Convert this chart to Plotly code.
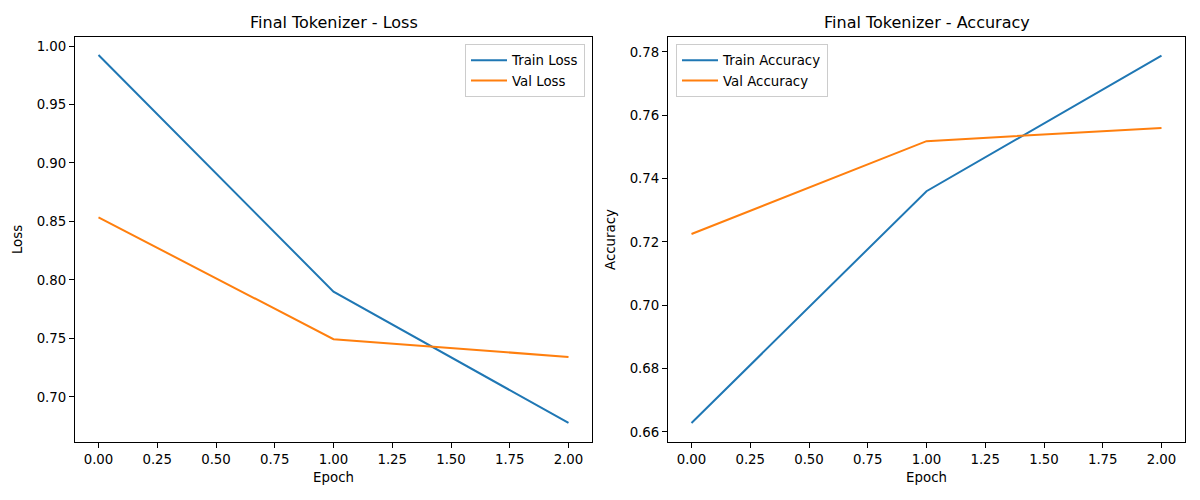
import plotly.graph_objects as go

epochs = [0, 1, 2]
train_loss = [0.9923, 0.7900, 0.6778]
val_loss = [0.8535, 0.7494, 0.7342]
train_acc = [0.6628, 0.7360, 0.7788]
val_acc = [0.7225, 0.7518, 0.7560]

blue = "#1f77b4"
orange = "#ff7f0e"
FONT = "DejaVu Sans"
FS = 13.33

fig = go.Figure()
fig.add_trace(go.Scatter(x=epochs, y=train_loss, mode="lines", name="Train Loss",
                         line=dict(color=blue, width=2), xaxis="x", yaxis="y", legend="legend"))
fig.add_trace(go.Scatter(x=epochs, y=val_loss, mode="lines", name="Val Loss",
                         line=dict(color=orange, width=2), xaxis="x", yaxis="y", legend="legend"))
fig.add_trace(go.Scatter(x=epochs, y=train_acc, mode="lines", name="Train Accuracy",
                         line=dict(color=blue, width=2), xaxis="x2", yaxis="y2", legend="legend2"))
fig.add_trace(go.Scatter(x=epochs, y=val_acc, mode="lines", name="Val Accuracy",
                         line=dict(color=orange, width=2), xaxis="x2", yaxis="y2", legend="legend2"))

ax_common = dict(showline=True, linecolor="black", linewidth=1, mirror=True,
                 ticks="outside", ticklen=5, tickwidth=1, tickcolor="black",
                 showgrid=False, zeroline=False, automargin=False,
                 tickfont=dict(family=FONT, size=FS, color="black"))

xl = (75 / 1200, 592 / 1200)
xr = (668 / 1200, 1185 / 1200)
yd = (1 - 442 / 500, 1 - 37 / 500)

fig.update_layout(
    width=1200, height=500,
    margin=dict(l=0, r=0, t=0, b=0, autoexpand=False),
    plot_bgcolor="white", paper_bgcolor="white",
    font=dict(family=FONT, size=FS, color="black"),
    xaxis=dict(domain=xl, anchor="y", range=[-0.1, 2.1], tick0=0, dtick=0.25, tickformat=".2f",
               title=dict(text="Epoch", standoff=6, font=dict(family=FONT, size=FS)), **ax_common),
    yaxis=dict(domain=yd, anchor="x", range=[0.6615, 1.0077], tick0=0, dtick=0.05, tickformat=".2f",
               title=dict(text="Loss", standoff=10, font=dict(family=FONT, size=FS)), **ax_common),
    xaxis2=dict(domain=xr, anchor="y2", range=[-0.1, 2.1], tick0=0, dtick=0.25, tickformat=".2f",
                title=dict(text="Epoch", standoff=6, font=dict(family=FONT, size=FS)), **ax_common),
    yaxis2=dict(domain=yd, anchor="x2", range=[0.6568, 0.7847], tick0=0, dtick=0.02, tickformat=".2f",
                title=dict(text="Accuracy", standoff=10, font=dict(family=FONT, size=FS)), **ax_common),
    legend=dict(x=585 / 1200, y=1 - 44 / 500, xanchor="right", yanchor="top",
                bgcolor="rgba(255,255,255,0.8)", bordercolor="#cccccc", borderwidth=1,
                font=dict(family=FONT, size=FS), tracegroupgap=0, itemwidth=36),
    legend2=dict(x=676 / 1200, y=1 - 44 / 500, xanchor="left", yanchor="top",
                 bgcolor="rgba(255,255,255,0.8)", bordercolor="#cccccc", borderwidth=1,
                 font=dict(family=FONT, size=FS), tracegroupgap=0, itemwidth=36),
    annotations=[
        dict(text="Final Tokenizer - Loss", x=(xl[0] + xl[1]) / 2, y=1 - 22 / 500,
             xref="paper", yref="paper", showarrow=False, xanchor="center", yanchor="middle",
             font=dict(family=FONT, size=16, color="black")),
        dict(text="Final Tokenizer - Accuracy", x=(xr[0] + xr[1]) / 2, y=1 - 22 / 500,
             xref="paper", yref="paper", showarrow=False, xanchor="center", yanchor="middle",
             font=dict(family=FONT, size=16, color="black")),
    ],
)

fig.write_html("out.html", config={"displayModeBar": False},
               post_script="document.body.style.margin='0';document.body.style.overflow='hidden';")
